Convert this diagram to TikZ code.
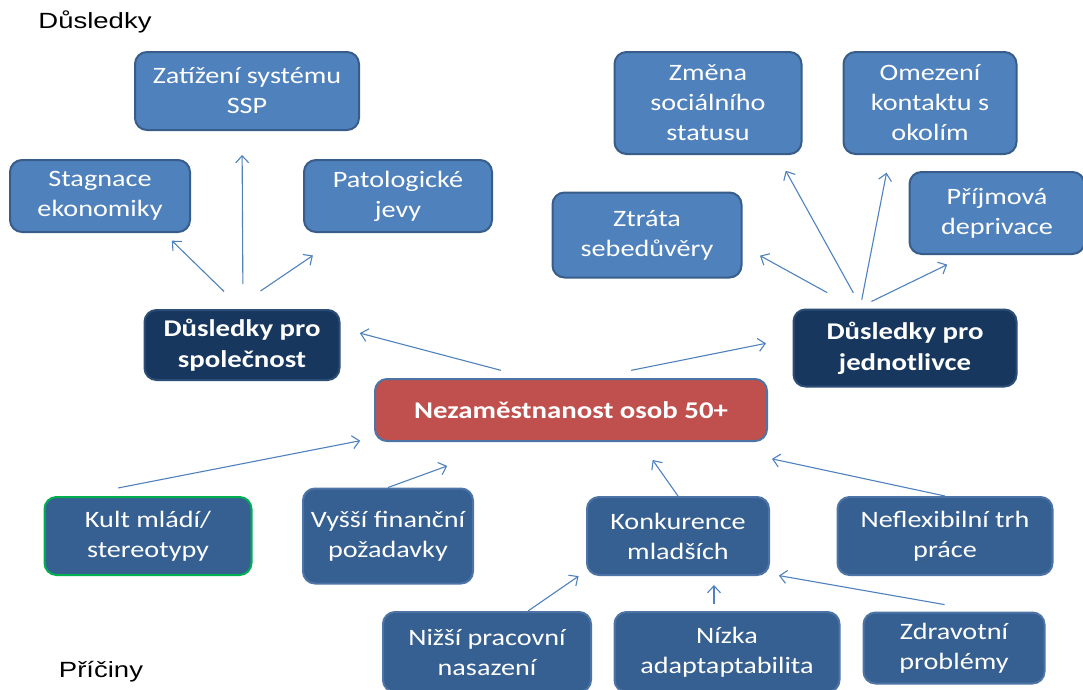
\documentclass[tikz,border=0pt]{standalone}
\usepackage{fontspec}
\setmainfont{Carlito}[FakeStretch=1.2]
\newfontfamily\headfont{Liberation Sans}[FakeStretch=1.25]
\usetikzlibrary{arrows.meta}
\usepackage{xcolor}
\definecolor{lightbox}{RGB}{79,129,189}
\definecolor{lightedge}{RGB}{56,93,138}
\definecolor{darkbox}{RGB}{23,55,94}
\definecolor{darkedge}{RGB}{44,77,117}
\definecolor{causebox}{RGB}{55,96,146}
\definecolor{causeedge}{RGB}{78,115,165}
\definecolor{mainbox}{RGB}{192,80,77}
\definecolor{linkblue}{RGB}{79,129,189}
\definecolor{kultgreen}{RGB}{0,176,80}

\begin{document}
\begin{tikzpicture}[x=1pt,y=-1pt,>={Straight Barb[length=7pt,width=13pt]},
    font=\fontsize{23.5}{30}\selectfont, text=white]
  \tikzstyle{box}=[rounded corners=12pt,align=center,inner sep=0pt,line width=2pt]
  \tikzstyle{effect}=[box,fill=lightbox,draw=lightedge]
  \tikzstyle{group}=[box,fill=darkbox,draw=darkedge,font=\fontsize{24}{31}\selectfont\bfseries]
  \tikzstyle{cause}=[box,fill=causebox,draw=causeedge]
  \tikzstyle{link}=[->,draw=linkblue,line width=1.1pt]

  \useasboundingbox (0,0) rectangle (1083,689);

  \node[text=black,font=\headfont\fontsize{22}{26}\selectfont] (dtitle) at (95,22) {Důsledky};
  \node[text=black,font=\headfont\fontsize{22}{26}\selectfont] (ptitle) at (101,672) {Příčiny};

  % society side
  \node[effect,minimum width=224pt,minimum height=78pt] (zat) at (247,91) {Zatížení systému\\SSP};
  \node[effect,minimum width=180pt,minimum height=72pt] (stag) at (100,196) {Stagnace\\ekonomiky};
  \node[effect,minimum width=188pt,minimum height=72pt] (pat) at (398,196) {Patologické\\jevy};
  \node[group,minimum width=195pt,minimum height=70pt] (dspol) at (242,345) {Důsledky pro\\společnost};

  % individual side
  \node[effect,minimum width=187pt,minimum height=102pt] (zmena) at (708,103) {Změna\\sociálního\\statusu};
  \node[effect,minimum width=173pt,minimum height=102pt] (omez) at (930,103) {Omezení\\kontaktu s\\okolím};
  \node[effect,minimum width=175pt,minimum height=82pt] (prij) at (997,213) {Příjmová\\deprivace};
  \node[effect,minimum width=189pt,minimum height=85pt] (ztrata) at (647,235) {Ztráta\\sebedůvěry};
  \node[group,minimum width=223pt,minimum height=77pt] (djed) at (905,348) {Důsledky pro\\jednotlivce};

  \node[box,fill=mainbox,draw=causeedge,minimum width=392pt,minimum height=62pt,
        font=\fontsize{24}{29}\selectfont\bfseries] (nez) at (571,410) {Nezaměstnanost osob 50+};

  % causes
  \node[cause,draw=kultgreen,minimum width=207pt,minimum height=78pt] (kult) at (148,536) {Kult mládí/\\stereotypy};
  \node[cause,minimum width=170pt,minimum height=95pt] (vyssi) at (388,536) {Vyšší finanční\\požadavky};
  \node[cause,minimum width=182pt,minimum height=78pt] (konk) at (678,536) {Konkurence\\mladších};
  \node[cause,minimum width=215pt,minimum height=78pt] (nefl) at (945,536) {Neflexibilní trh\\práce};
  \node[cause,minimum width=208pt,minimum height=80pt] (nizsi) at (487,652) {Nižší pracovní\\nasazení};
  \node[cause,minimum width=225pt,minimum height=80pt] (nizka) at (727,652) {Nízka\\adaptaptabilita};
  \node[cause,minimum width=181pt,minimum height=71pt] (zdrav) at (954,648) {Zdravotní\\problémy};

  % connectors
  \draw[link,shorten <=25pt,shorten >=11pt] (dspol.north) -- ([xshift=64pt]stag.south);
  \draw[link,shorten <=25pt,shorten >=24pt] ([xshift=1pt]dspol.north) -- ([xshift=-5pt]zat.south);
  \draw[link,shorten <=32pt,shorten >=40pt] ([xshift=-8pt]dspol.north) -- ([xshift=-52pt]pat.south);
  \draw[link,shorten <=30pt,shorten >=20pt] ([xshift=-41pt]nez.north) -- ([yshift=17pt]dspol.east);
  \draw[link,shorten <=39pt,shorten >=27pt] ([xshift=22pt]nez.north) -- ([yshift=10pt]djed.west);
  \draw[link,shorten <=33pt,shorten >=20pt] ([xshift=-49pt]djed.north) -- ([yshift=-11pt]ztrata.east);
  \draw[link,shorten <=18pt,shorten >=18pt] ([xshift=-43pt]djed.north) -- ([xshift=69pt]zmena.south);
  \draw[link,shorten <=9pt,shorten >=18pt] ([xshift=-45pt]djed.north) -- ([xshift=-40pt]omez.south);
  \draw[link,shorten <=16pt,shorten >=22pt] ([xshift=-48pt]djed.north) -- ([xshift=-30pt]prij.south);
  \draw[link,shorten <=42pt,shorten >=14pt] ([xshift=-71pt]kult.north) -- ([yshift=-28pt]nez.west);
  \draw[link,shorten >=70pt] (vyssi.north) -- ([xshift=-58pt]nez.south);
  \draw[link,shorten >=22pt] (konk.north) -- ([xshift=69pt]nez.south);
  \draw[link,shorten >=4pt] (nefl.north) -- ([yshift=-16pt]nez.south east);
  \draw[link,shorten >=9pt] ([xshift=41pt]nizsi.north) -- ([yshift=-35pt]konk.west);
  \draw[link,shorten <=7pt,shorten >=9pt] ([xshift=-13pt]nizka.north) -- ([xshift=36pt]konk.south);
  \draw[link,shorten <=40pt,shorten >=9pt] ([xshift=30pt]zdrav.north) -- ([yshift=-38pt]konk.east);
\end{tikzpicture}
\end{document}
